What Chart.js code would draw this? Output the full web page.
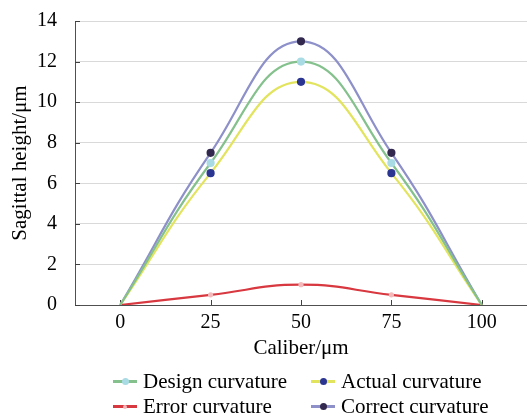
<!DOCTYPE html>
<html>
<head>
<meta charset="utf-8">
<script src="https://cdn.jsdelivr.net/npm/chart.js@4.4.1/dist/chart.umd.min.js"></script>
<style>
  html, body { margin: 0; padding: 0; background: #fff; }
  #area { position: relative; width: 527px; height: 417px; }
  #legenda { position: absolute; left: 0; top: 0; width: 527px; height: 417px; pointer-events: none;
             font-family: "Liberation Serif", "Times New Roman", serif; font-size: 21px; color: #000; }
  .item { position: absolute; display: flex; align-items: center; white-space: nowrap; line-height: 25px; }
  .amostra { position: relative; width: 24px; height: 3px; margin-right: 6px; }
  .amostra i { position: absolute; left: 9px; top: -2px; width: 7px; height: 7px; border-radius: 50%; }
</style>
</head>
<body>
<div id="area">
  <canvas id="grafico_curvatura" width="527" height="417"></canvas>
  <div id="legenda"></div>
</div>
<script>
// dados
const calibre = ['0', '25', '50', '75', '100'];
const curvaturaProjeto = [0, 7, 12, 7, 0];
const curvaturaReal = [0, 6.5, 11, 6.5, 0];
const curvaturaErro = [0, 0.5, 1, 0.5, 0];
const curvaturaCorrigida = [0, 7.5, 13, 7.5, 0];
const ticksAltura = [0, 2, 4, 6, 8, 10, 12, 14];

const fonteSerif = 'Liberation Serif';

// marcas dos eixos viradas para dentro
const marcasEixo = {
  id: 'marcasEixo',
  beforeDatasetsDraw(chart) {
    const { ctx, chartArea, scales: { x, y } } = chart;
    ctx.save();
    ctx.strokeStyle = '#404040';
    ctx.lineWidth = 1;
    ctx.beginPath();
    x.ticks.forEach((t, i) => {
      const px = Math.round(x.getPixelForTick(i)) + 0.5;
      ctx.moveTo(px, chartArea.bottom);
      ctx.lineTo(px, chartArea.bottom - 5);
    });
    y.ticks.forEach((t, i) => {
      const py = Math.round(y.getPixelForTick(i)) + 0.5;
      ctx.moveTo(chartArea.left, py);
      ctx.lineTo(chartArea.left + 5, py);
    });
    ctx.stroke();
    ctx.restore();
  }
};

function serie(nome, dados, corLinha, corPonto, raio) {
  return {
    label: nome,
    data: dados,
    borderColor: corLinha,
    backgroundColor: corPonto,
    pointBackgroundColor: corPonto,
    pointBorderColor: corPonto,
    pointRadius: dados.map((v, i) => (i === 0 || i === dados.length - 1) ? 0 : raio),
    borderWidth: 2.2,
    tension: 0.45,
    fill: false
  };
}

const grafico = new Chart(document.getElementById('grafico_curvatura'), {
  type: 'line',
  data: {
    labels: calibre,
    datasets: [
      serie('Design curvature', curvaturaProjeto, '#84c18c', '#a8dbe4', 3),
      serie('Actual curvature', curvaturaReal, '#e2e45e', '#2b3592', 3),
      serie('Error curvature', curvaturaErro, '#d8383f', '#f3b9bb', 1.5),
      serie('Correct curvature', curvaturaCorrigida, '#8d90c9', '#33294f', 3)
    ]
  },
  options: {
    responsive: false,
    animation: false,
    layout: { autoPadding: false, padding: { top: 21, right: 0, bottom: 56, left: 0 } },
    plugins: {
      legend: { display: false },
      tooltip: { enabled: false }
    },
    scales: {
      x: {
        type: 'category',
        offset: true,
        grid: { display: false, drawTicks: false },
        border: { display: true, color: '#505050', width: 1 },
        ticks: { color: '#000', padding: 6, font: { family: fonteSerif, size: 20 } },
        title: {
          display: true,
          text: 'Caliber/μm',
          color: '#000',
          padding: 0,
          font: { family: fonteSerif, size: 21 }
        },
        afterFit(escala) {
          escala.height = 56;
          escala.paddingLeft = 0;
          escala.paddingRight = 0;
        }
      },
      y: {
        min: 0,
        max: 14,
        afterBuildTicks(escala) { escala.ticks = ticksAltura.map(v => ({ value: v })); },
        grid: { color: '#d9d9d9', drawTicks: false },
        border: { display: true, color: '#505050', width: 1 },
        ticks: { color: '#000', padding: 18, font: { family: fonteSerif, size: 20 } },
        title: {
          display: true,
          text: 'Sagittal height/μm',
          color: '#000',
          padding: { top: 8, bottom: 0 },
          font: { family: fonteSerif, size: 21 }
        },
        afterFit(escala) {
          escala.width = 75;
          escala.paddingTop = 0;
          escala.paddingBottom = 0;
        }
      }
    }
  },
  plugins: [marcasEixo]
});

// legenda em duas colunas, como no original
function montarLegenda(chart) {
  const colunas = [113, 311];
  const linhas = [369, 394];
  const legenda = document.getElementById('legenda');
  chart.data.datasets.forEach((ds, i) => {
    const item = document.createElement('div');
    item.className = 'item';
    item.style.left = colunas[i % 2] + 'px';
    item.style.top = linhas[Math.floor(i / 2)] + 'px';
    const raio = ds.label === 'Error curvature' ? 2 : 3.5;
    item.innerHTML = `
      <span class="amostra" style="background:${ds.borderColor}">
        <i style="background:${ds.pointBackgroundColor};width:${raio * 2}px;height:${raio * 2}px;left:${12 - raio}px;top:${1.5 - raio}px"></i>
      </span>
      <span>${ds.label}</span>`;
    legenda.appendChild(item);
  });
}

montarLegenda(grafico);
</script>
</body>
</html>
